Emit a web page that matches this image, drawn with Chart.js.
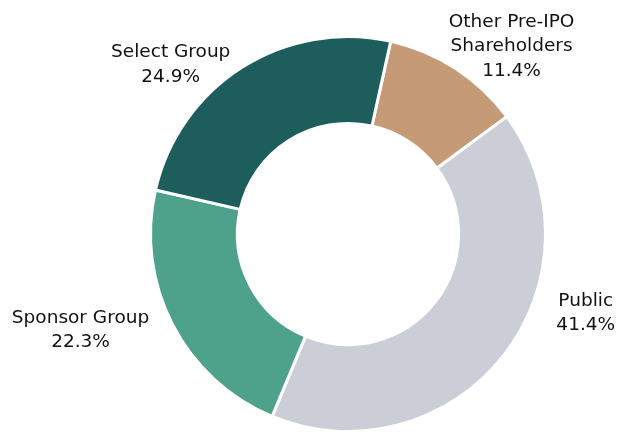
<!DOCTYPE html>
<html>
<head>
<meta charset="utf-8">
<script src="https://cdn.jsdelivr.net/npm/chart.js@4/dist/chart.umd.min.js"></script>
<style>
  html, body { margin: 0; padding: 0; background: #ffffff; }
  #wrap { width: 623px; height: 433px; position: relative; }
</style>
</head>
<body>
<div id="wrap"><canvas id="c" width="623" height="433"></canvas></div>
<script>
// Data
const categories = ["Other Pre-IPO Shareholders", "Public", "Sponsor Group", "Select Group"];
const labelLines = [["Other Pre-IPO", "Shareholders"], ["Public"], ["Sponsor Group"], ["Select Group"]];
const shares = [11.4, 41.4, 22.3, 24.9];
const colors = ["#C49B76", "#CBCED6", "#4EA18B", "#1D5E5C"];

// Label placement (polar, relative to doughnut centre): angle in deg from top, distance in outer radii
const labelAngle = [40.7, 107.9, 250.7, 314.1];
const labelDist = [1.27, 1.265, 1.435, 1.25];

const labelPlugin = {
  id: 'outerLabels',
  afterDatasetsDraw(chart) {
    const ctx = chart.ctx;
    const meta = chart.getDatasetMeta(0);
    ctx.save();
    ctx.font = '18.5px "DejaVu Sans", sans-serif';
    ctx.fillStyle = '#111111';
    ctx.textAlign = 'center';
    ctx.textBaseline = 'middle';
    const lh = 24.5;
    const shift = 2.5;
    meta.data.forEach((arc, i) => {
      const R = arc.outerRadius;
      const a = labelAngle[i] * Math.PI / 180;
      const x = arc.x + Math.sin(a) * R * labelDist[i];
      const y = arc.y - Math.cos(a) * R * labelDist[i] + shift;
      const lines = labelLines[i].concat([shares[i].toFixed(1) + '%']);
      const top = y - (lines.length - 1) * lh / 2;
      lines.forEach((t, k) => ctx.fillText(t, x, top + k * lh));
    });
    ctx.restore();
  }
};

new Chart(document.getElementById('c'), {
  type: 'doughnut',
  data: {
    labels: categories,
    datasets: [{
      data: shares,
      backgroundColor: colors,
      borderColor: '#ffffff',
      borderWidth: 3,
      hoverOffset: 0
    }]
  },
  options: {
    responsive: false,
    animation: false,
    rotation: 12.5,
    cutout: '56%',
    layout: { padding: { left: 148, right: 75, top: 35, bottom: 0 } },
    plugins: {
      legend: { display: false },
      tooltip: { enabled: false }
    }
  },
  plugins: [labelPlugin]
});
</script>
</body>
</html>
